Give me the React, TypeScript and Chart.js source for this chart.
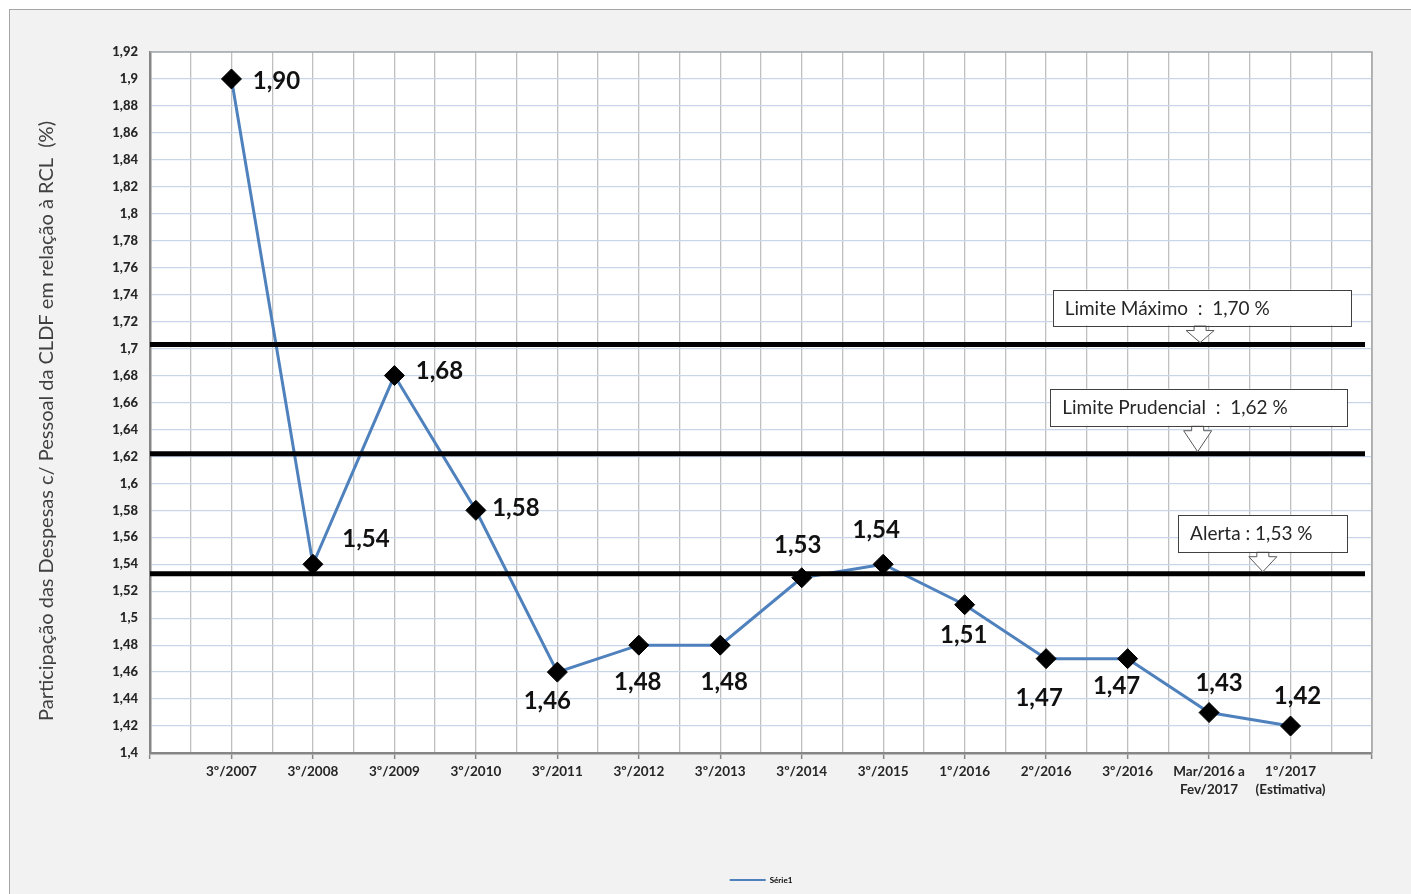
import React, { useEffect, useRef } from 'react';
import { Chart, registerables } from 'chart.js';

Chart.register(...registerables);

// ---------------- data ----------------
const categories = [
  '3º/2007', '3º/2008', '3º/2009', '3º/2010', '3º/2011', '3º/2012', '3º/2013',
  '3º/2014', '3º/2015', '1º/2016', '2º/2016', '3º/2016', 'Mar/2016 a\nFev/2017', '1º/2017\n(Estimativa)',
];
const values = [1.90, 1.54, 1.68, 1.58, 1.46, 1.48, 1.48, 1.53, 1.54, 1.51, 1.47, 1.47, 1.43, 1.42];
const seriesName = 'Série1';
const limitLabels = ['Limite Máximo  :  1,70 %', 'Limite Prudencial  :  1,62 %', 'Alerta : 1,53 %'];
const limitValues = [1.703, 1.622, 1.533];
const yMin = 1.4;
const yMax = 1.92;
const yStep = 0.02;
const yTitle = 'Participação das Despesas c/ Pessoal da CLDF em relação à RCL  (%)';

// ---------------- styles ----------------
const FONT = 'Lato, "Open Sans", "DejaVu Sans", sans-serif';
const LINE_COLOR = '#4f81bd';
const LABEL_OFFSETS: [number, number][] = [
  [45, 2], [53, -25], [45, -4], [40, -2], [-10, 29], [-1, 37], [4, 37],
  [-4, -32], [-7, -34], [-1, 31], [-7, 40], [-11, 28], [10, -29], [7, -30],
];
// callout boxes: x extents in x-axis units, box bottom offset (px) above the line, box height
const BOXES = [
  { x0: 11.08, x1: 14.74, ax: 12.89, bottomGap: 19, h: 36 },
  { x0: 11.05, x1: 14.69, ax: 12.86, bottomGap: 28, h: 37 },
  { x0: 12.62, x1: 14.69, ax: 13.66, bottomGap: 22, h: 37 },
];

const fmtTick = (v: number) => String(Math.round(v * 100) / 100).replace('.', ',');
const fmtVal = (v: number) => v.toFixed(2).replace('.', ',');

const decorPlugin = {
  id: 'decor',
  beforeDraw(chart: any) {
    const { ctx, chartArea: a } = chart;
    ctx.save();
    ctx.fillStyle = '#ffffff';
    ctx.fillRect(a.left, a.top, a.right - a.left, a.bottom - a.top);
    ctx.restore();
  },
  beforeDatasetsDraw(chart: any) {
    const { ctx, chartArea: a } = chart;
    ctx.save();
    ctx.strokeStyle = '#a6a6a6';
    ctx.lineWidth = 1.5;
    ctx.beginPath();
    ctx.moveTo(a.left, a.top);
    ctx.lineTo(a.right, a.top);
    ctx.lineTo(a.right, a.bottom);
    ctx.stroke();
    ctx.restore();
  },
  afterDatasetsDraw(chart: any) {
    const { ctx, chartArea: a } = chart;
    const xs = chart.scales.x;
    const ys = chart.scales.y;
    ctx.save();
    // limit lines
    ctx.strokeStyle = '#000000';
    ctx.lineWidth = 5;
    limitValues.forEach((lv) => {
      const y = ys.getPixelForValue(lv);
      ctx.beginPath();
      ctx.moveTo(a.left, y);
      ctx.lineTo(a.right - 7, y);
      ctx.stroke();
    });
    // data labels
    const meta = chart.getDatasetMeta(0);
    ctx.fillStyle = '#111111';
    ctx.font = `bold 24px ${FONT}`;
    ctx.textAlign = 'center';
    ctx.textBaseline = 'middle';
    meta.data.forEach((pt: any, i: number) => {
      const [dx, dy] = LABEL_OFFSETS[i] || [0, -25];
      ctx.fillText(fmtVal(values[i]), pt.x + dx, pt.y + dy);
    });
    // callout boxes
    BOXES.forEach((b, i) => {
      const ly = ys.getPixelForValue(limitValues[i]);
      const x0 = xs.getPixelForValue(b.x0);
      const x1 = xs.getPixelForValue(b.x1);
      const ax = xs.getPixelForValue(b.ax);
      const bottom = ly - b.bottomGap;
      const top = bottom - b.h;
      const tip = ly - 2;
      // arrow
      ctx.fillStyle = '#ffffff';
      ctx.strokeStyle = '#595959';
      ctx.lineWidth = 1;
      ctx.beginPath();
      ctx.moveTo(ax - 6, bottom);
      ctx.lineTo(ax - 6, bottom + 5);
      ctx.lineTo(ax - 14, bottom + 5);
      ctx.lineTo(ax, tip);
      ctx.lineTo(ax + 14, bottom + 5);
      ctx.lineTo(ax + 6, bottom + 5);
      ctx.lineTo(ax + 6, bottom);
      ctx.closePath();
      ctx.fill();
      ctx.stroke();
      // box
      ctx.fillRect(x0, top, x1 - x0, b.h);
      ctx.strokeStyle = '#404040';
      ctx.strokeRect(Math.round(x0) + 0.5, Math.round(top) + 0.5, Math.round(x1 - x0), Math.round(b.h));
      ctx.fillStyle = '#262626';
      ctx.font = `19px ${FONT}`;
      ctx.textAlign = 'left';
      ctx.textBaseline = 'middle';
      ctx.fillText(limitLabels[i], x0 + 12, top + b.h / 2 + 1);
    });
    ctx.restore();
  },
  afterDraw(chart: any) {
    const { ctx } = chart;
    ctx.save();
    ctx.translate(37, 411);
    ctx.rotate(-Math.PI / 2);
    ctx.fillStyle = '#404040';
    ctx.font = `20px ${FONT}`;
    ctx.textAlign = 'center';
    ctx.textBaseline = 'middle';
    ctx.fillText(yTitle, 0, 0);
    ctx.restore();
  },
};

export default function App() {
  const canvasRef = useRef<HTMLCanvasElement | null>(null);

  useEffect(() => {
    if (!canvasRef.current) return;
    const chart = new Chart(canvasRef.current, {
      type: 'line',
      data: {
        datasets: [
          {
            label: seriesName,
            data: values.map((v, i) => ({ x: i + 1, y: v })),
            borderColor: LINE_COLOR,
            backgroundColor: '#000000',
            borderWidth: 3,
            pointStyle: 'rectRot',
            pointRadius: 10,
            pointBackgroundColor: '#000000',
            pointBorderColor: '#000000',
            pointBorderWidth: 1,
            tension: 0,
          },
        ],
      },
      options: {
        animation: false,
        responsive: true,
        maintainAspectRatio: false,
        layout: { padding: { top: 42, right: 39, left: 0, bottom: 0 } },
        plugins: {
          tooltip: { enabled: false },
          legend: {
            display: true,
            position: 'bottom',
            fullSize: false,
            labels: {
              boxWidth: 36,
              boxHeight: 2,
              padding: 6,
              color: '#000000',
              font: { family: FONT, size: 8, weight: 'bold' },
              generateLabels: () => [
                {
                  text: seriesName,
                  fillStyle: LINE_COLOR,
                  strokeStyle: LINE_COLOR,
                  lineWidth: 0,
                  hidden: false,
                  datasetIndex: 0,
                },
              ],
            },
          },
        },
        scales: {
          x: {
            type: 'linear',
            min: 0,
            max: categories.length + 1,
            offset: false,
            afterFit: (scale: any) => {
              scale.height = 117;
            },
            afterBuildTicks: (scale: any) => {
              const t = [];
              for (let v = 0; v <= categories.length + 1; v += 0.5) t.push({ value: v });
              scale.ticks = t;
            },
            ticks: {
              autoSkip: false,
              maxRotation: 0,
              minRotation: 0,
              padding: 4,
              color: '#262626',
              font: { family: FONT, size: 13.5, weight: 'bold', lineHeight: 1.33 },
              callback: (v: any) => {
                const n = Number(v);
                if (!Number.isInteger(n) || n < 1 || n > categories.length) return '';
                const s = categories[n - 1];
                return s.includes('\n') ? s.split('\n') : s;
              },
            },
            grid: {
              drawOnChartArea: true,
              drawTicks: true,
              tickLength: 6,
              lineWidth: 1.3,
              color: (c: any) => (c.tick && c.tick.value === 0 ? 'rgba(0,0,0,0)' : '#bfbfbf'),
              tickColor: (c: any) => (c.tick && Number.isInteger(c.tick.value) ? '#868686' : 'rgba(0,0,0,0)'),
              tickWidth: 1.5,
            },
            border: { display: true, color: '#868686', width: 2.5 },
          },
          y: {
            type: 'linear',
            min: yMin,
            max: yMax,
            afterFit: (scale: any) => {
              scale.width = 140;
            },
            ticks: {
              stepSize: yStep,
              autoSkip: false,
              padding: 12,
              color: '#262626',
              font: { family: FONT, size: 13, weight: '900' },
              callback: (v: any) => fmtTick(Number(v)),
            },
            grid: {
              drawTicks: false,
              lineWidth: 1.3,
              color: '#c9d5e8',
            },
            border: { display: true, color: '#868686', width: 2.5 },
          },
        },
      },
      plugins: [decorPlugin],
    } as any);
    return () => chart.destroy();
  }, []);

  return (
    <div style={{ position: 'fixed', left: 0, top: 0, width: 1411, height: 894, overflow: 'hidden', background: '#ffffff' }}>
      <div
        style={{
          position: 'absolute',
          left: 9,
          top: 9,
          width: 1401,
          height: 884,
          background: '#f2f2f2',
          border: '1px solid #a6a6a6',
        }}
      >
        <div style={{ position: 'relative', width: 1401, height: 884 }}>
          <canvas ref={canvasRef} />
        </div>
      </div>
    </div>
  );
}
